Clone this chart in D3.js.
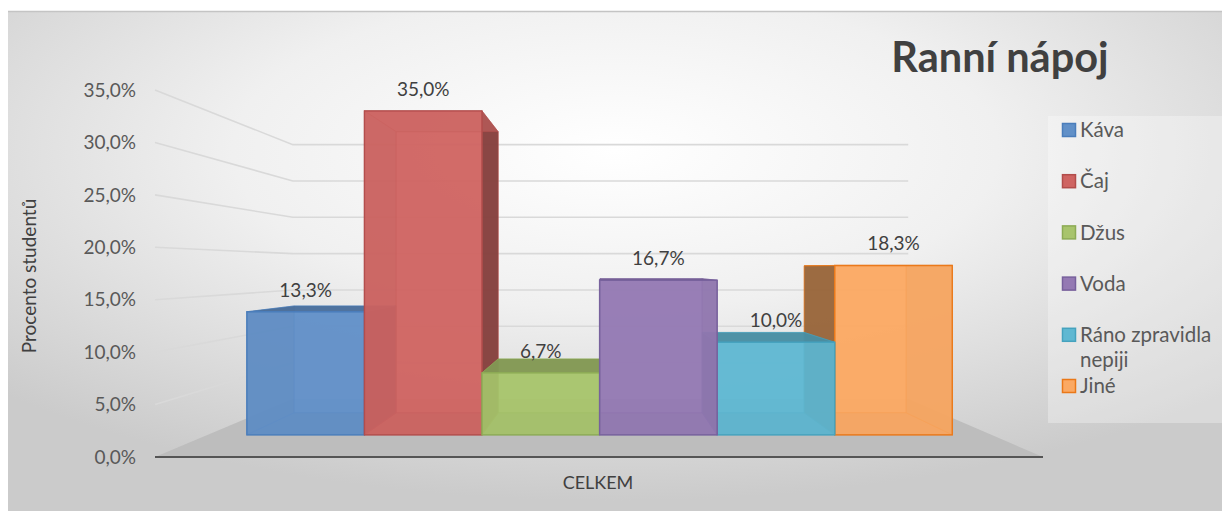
<!DOCTYPE html>
<html lang="cs">
<head>
<meta charset="utf-8">
<title>Ranní nápoj</title>
<script src="https://cdn.jsdelivr.net/npm/d3@7/dist/d3.min.js"></script>
<style>
  html, body { margin: 0; padding: 0; background: #ffffff; }
  svg { display: block; font-family: Lato, "Open Sans", sans-serif; }
</style>
</head>
<body>
<svg id="chart" width="1222" height="511"></svg>
<script>
// ---- data ----
const categories = ["CELKEM"];
const series = ["Káva", "Čaj", "Džus", "Voda", "Ráno zpravidla nepiji", "Jiné"];
const values = [13.3, 35.0, 6.7, 16.7, 10.0, 18.3];
const seriesColors = ["#6190c8", "#cf6462", "#a8c46c", "#9479b3", "#5fb8d2", "#fba963"];
const borderColors = ["#4a7dbb", "#b24d4b", "#8dab55", "#77609c", "#45a2be", "#ea7818"];
const yTicks = [0, 5, 10, 15, 20, 25, 30, 35];
const title = "Ranní nápoj";
const yTitle = "Procento studentů";

// ---- layout ----
const W = 1222, H = 511;
const svg = d3.select("#chart");

// perspective: vanishing point and depth factors (1 = front plane)
const cx = 604, cy = 268;
const depth = d3.scaleLinear().domain([0, 1]).range([1, 1.443]);
const proj = (X, Y, w) => [cx + (X - cx) / w, cy + (Y - cy) / w];

// front-plane scales
const y = d3.scaleLinear().domain([0, 35]).range([457, 90]);
const xOuter = d3.scaleBand().domain(categories).range([155, 1043])
  .paddingInner(0.1).paddingOuter(0.05);
const xInner = d3.scaleBand().domain(series).range([0, xOuter.bandwidth()]).padding(0);
const color = d3.scaleOrdinal().domain(series).range(seriesColors);
const border = d3.scaleOrdinal().domain(series).range(borderColors);

const fmt = v => d3.format(".1f")(v).replace(".", ",") + "%";

// ---- background ----
const defs = svg.append("defs");
const bg = defs.append("radialGradient").attr("id", "bg")
  .attr("cx", "0.5").attr("cy", "0.28").attr("r", "0.7");
bg.append("stop").attr("offset", "0").attr("stop-color", "#ffffff");
bg.append("stop").attr("offset", "0.45").attr("stop-color", "#f0f0f0");
bg.append("stop").attr("offset", "1").attr("stop-color", "#cbcbcb");

svg.append("rect").attr("x", 8).attr("y", 11).attr("width", W - 8).attr("height", H - 11)
  .attr("fill", "url(#bg)");
svg.append("line").attr("x1", 8).attr("x2", W).attr("y1", 11.5).attr("y2", 11.5)
  .attr("stroke", "#c4c4c4").attr("stroke-width", 1.5);

// ---- floor ----
const X0f = xOuter.range()[0], X1f = xOuter.range()[1];
const line = d3.line();
svg.append("path")
  .attr("d", line([proj(X0f, y(0), depth(0)), proj(X1f, y(0), depth(0)),
                   proj(X1f, y(0), depth(1)), proj(X0f, y(0), depth(1))]) + "Z")
  .attr("fill", "#bdbdbd");

// ---- gridlines on the left and back walls ----
const grid = svg.append("g").attr("fill", "none").attr("stroke", "#d9d9d9").attr("stroke-width", 1.6);
yTicks.filter(t => t > 0).forEach(t => {
  grid.append("path").attr("d", line([
    proj(X0f, y(t), depth(0)), proj(X0f, y(t), depth(1)), proj(X1f, y(t), depth(1))
  ]));
});

// front axis edge
svg.append("line")
  .attr("x1", X0f).attr("x2", X1f).attr("y1", y(0)).attr("y2", y(0))
  .attr("stroke", "#555555").attr("stroke-width", 2);

// ---- y axis labels ----
svg.append("g").selectAll("text").data(yTicks).join("text")
  .attr("x", 136).attr("y", d => y(d)).attr("dy", "0.35em")
  .attr("text-anchor", "end").attr("font-size", 19).attr("fill", "#595959")
  .text(fmt);

// ---- bars (transparent cuboids) ----
const zFront = 0.3, zBack = 0.69;
const bars = series.map((s, i) => {
  const X0 = xOuter(categories[0]) + xInner(s);
  return { s, v: values[i], X0, X1: X0 + xInner.bandwidth() };
});
// painter order: outer bars first, moving toward the vanishing point
const leftSide = bars.filter(b => (b.X0 + b.X1) / 2 < cx);
const rightSide = bars.filter(b => (b.X0 + b.X1) / 2 >= cx).reverse();
const order = leftSide.concat(rightSide);

const barG = svg.append("g");
order.forEach(b => {
  const base = d3.color(color(b.s));
  const edge = border(b.s);
  const w0 = depth(zFront), w1 = depth(zBack);
  const Y0 = y(0), Y1 = y(b.v);
  const P = (X, Y, w) => proj(X, Y, w);
  const FBL = P(b.X0, Y0, w0), FBR = P(b.X1, Y0, w0), FTL = P(b.X0, Y1, w0), FTR = P(b.X1, Y1, w0);
  const BBL = P(b.X0, Y0, w1), BBR = P(b.X1, Y0, w1), BTL = P(b.X0, Y1, w1), BTR = P(b.X1, Y1, w1);
  // faces turned toward the viewer are shaded darker than faces seen through the box
  const leftOut = b.X0 > cx, rightOut = b.X1 < cx, topOut = Y1 > cy;
  const faces = [
    { pts: [BBL, BBR, BTR, BTL], c: base, a: 0.78 },
    { pts: [FBL, FBR, BBR, BBL], c: base.darker(0.4), a: 0.78 },
    { pts: [FBL, FTL, BTL, BBL], c: base.darker(leftOut ? 1.6 : 0.45), a: leftOut ? 0.88 : 0.78 },
    { pts: [FBR, FTR, BTR, BBR], c: base.darker(rightOut ? 1.4 : 0.45), a: rightOut ? 0.88 : 0.78 },
    { pts: [FTL, FTR, BTR, BTL], c: base.darker(topOut ? 0.75 : 0.35), a: topOut ? 0.9 : 0.78 },
    { pts: [FBL, FBR, FTR, FTL], c: base, a: 0.8 }
  ];
  const g = barG.append("g");
  faces.forEach(f => {
    g.append("path").attr("d", line(f.pts) + "Z")
      .attr("fill", f.c.formatHex()).attr("fill-opacity", f.a)
      .attr("stroke", edge).attr("stroke-opacity", 0.5)
      .attr("stroke-width", 1).attr("stroke-linejoin", "round");
  });
  g.append("path").attr("d", line([FBL, FBR, FTR, FTL]) + "Z")
    .attr("fill", "none").attr("stroke", edge)
    .attr("stroke-width", 1.4).attr("stroke-opacity", 0.9);
  b.labelX = (FBL[0] + FBR[0]) / 2;
  b.labelY = FTL[1] - 15;
});

// ---- data labels ----
svg.append("g").selectAll("text").data(bars).join("text")
  .attr("x", d => d.labelX).attr("y", d => d.labelY)
  .attr("text-anchor", "middle").attr("font-size", 19).attr("fill", "#404040")
  .text(d => fmt(d.v));

// ---- category label ----
svg.append("text").attr("x", (X0f + X1f) / 2 - 1).attr("y", 489)
  .attr("text-anchor", "middle").attr("font-size", 18).attr("fill", "#404040")
  .text(categories[0]);

// ---- axis title ----
svg.append("text").attr("transform", "translate(36,276) rotate(-90)")
  .attr("text-anchor", "middle").attr("font-size", 19).attr("fill", "#404040")
  .text(yTitle);

// ---- chart title ----
svg.append("text").attr("x", 1000).attr("y", 72)
  .attr("text-anchor", "middle").attr("font-size", 41.5).attr("font-weight", 700)
  .attr("fill", "#404040").text(title);

// ---- legend ----
const lg = svg.append("g");
lg.append("rect").attr("x", 1048).attr("y", 116).attr("width", W - 1048).attr("height", 307)
  .attr("fill", "#ffffff").attr("fill-opacity", 0.3);
const step = 51.2, lx = 1062, maxW = 145, fs = 20.5;
series.forEach((s, i) => {
  const cyItem = 130 + i * step;
  const base = d3.color(color(s));
  lg.append("rect").attr("x", lx + 0.5).attr("y", cyItem - 6.5).attr("width", 13).attr("height", 13)
    .attr("fill", base.formatHex()).attr("stroke", border(s)).attr("stroke-width", 1.5);
  // simple word wrap
  const words = s.split(" ");
  const lines = [];
  let cur = "";
  const probe = lg.append("text").attr("font-size", fs);
  words.forEach(wd => {
    const test = cur ? cur + " " + wd : wd;
    probe.text(test);
    if (probe.node().getComputedTextLength() > maxW && cur) { lines.push(cur); cur = wd; }
    else cur = test;
  });
  lines.push(cur);
  probe.remove();
  const t = lg.append("text").attr("font-size", fs).attr("fill", "#595959");
  lines.forEach((ln, k) => {
    t.append("tspan").attr("x", 1080).attr("y", cyItem + k * 25).attr("dy", "0.35em").text(ln);
  });
});
</script>
</body>
</html>
